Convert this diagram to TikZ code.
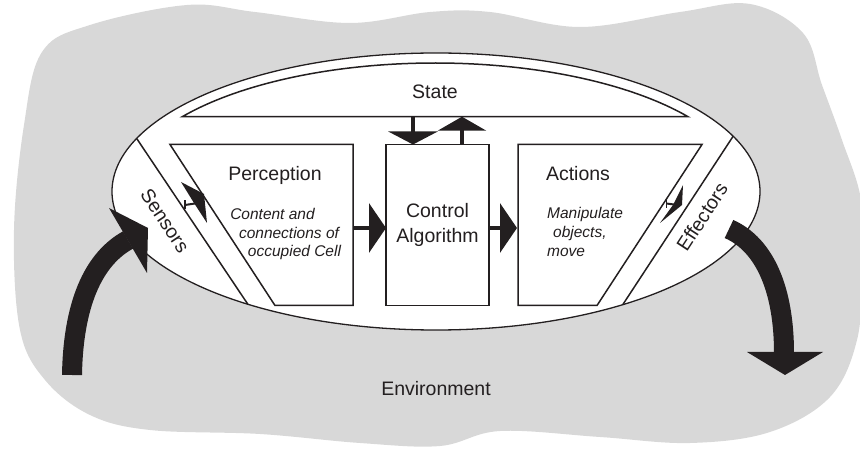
\documentclass[tikz,border=0pt]{standalone}
\usepackage{fontspec}
\setmainfont{Liberation Sans}
\usetikzlibrary{arrows.meta,calc}
\definecolor{envgray}{RGB}{216,216,216}
\definecolor{ink}{RGB}{35,31,32}
\begin{document}
\begin{tikzpicture}[x=1pt,y=1pt,
  lbl/.style={font=\fontsize{19.5}{24.5}\selectfont, text=ink, inner sep=0pt},
  desc/.style={font=\fontsize{15.5}{18}\selectfont\itshape, text=ink, inner sep=0pt},
  outline/.style={draw=ink, line width=1.5pt, fill=white, line join=miter},
  chord/.style={draw=ink, line width=1.5pt},
  flow/.style={draw=ink, line width=4pt, -{Triangle[length=17pt,width=49pt]}},
  stflow/.style={draw=ink, line width=3.5pt, -{Triangle[length=13pt,width=49pt]}},
  thin/.style={draw=ink, line width=2pt},
  big/.style={draw=ink, line width=20pt, line cap=butt},
]
\useasboundingbox (0,0) rectangle (860,-454);

% environment blob
\fill[envgray] plot[smooth cycle, tension=0.6] coordinates {
 (24,-125) (42,-52) (90,-25) (187,-5) (255,-12) (350,-23) (430,-12)
 (490,-12) (580,-27) (680,-12) (750,-4) (803,-33) (822,-85) (842,-140)
 (861,-200) (862,-270) (857,-340) (830,-397) (770,-432) (690,-443)
 (600,-437) (500,-431) (440,-446) (360,-443) (260,-434) (150,-430)
 (90,-415) (45,-380) (20,-330) (14,-230)};

% agent ellipse
\coordinate (C) at (436,-191.5);
\draw[outline, line width=1.3pt] (C) ellipse [x radius=324pt, y radius=138.5pt];

% state
\draw[outline] (688,-116.7) arc[start angle=35.6, end angle=144.4, x radius=311pt, y radius=128.5pt] -- cycle;
\node[lbl] (state) at (435,-91.7) {State};

% sensor / effector bands
\coordinate (s1) at ($(C)+(157.5:324pt and 138.5pt)$);
\coordinate (s2) at ($(C)+(234.5:324pt and 138.5pt)$);
\coordinate (e1) at ($(C)+(23.5:324pt and 138.5pt)$);
\coordinate (e2) at ($(C)+(305.2:324pt and 138.5pt)$);
\draw[chord] (s1) -- (s2);
\draw[chord] (e1) -- (e2);

% boxes
\draw[outline] (170,-144.5) -- (353,-144.5) -- (353,-305.5) -- (275,-305.5) -- cycle;
\node[outline, minimum width=103pt, minimum height=161pt, inner sep=0pt, align=center,
      font=\fontsize{19.5}{24.7}\selectfont, text=ink] (ctrl) at (437.5,-225) {Control\\Algorithm};
\draw[outline] (518,-144.5) -- (702,-144.5) -- (597,-305.5) -- (518,-305.5) -- cycle;

% texts
\node[lbl] (perc) at (275,-175) {Perception};
\node[desc] (pd1) at (272.5,-214) {Content and};
\node[desc] (pd2) at (289,-233) {connections of};
\node[desc] (pd3) at (294.5,-252) {occupied Cell};
\node[lbl] (act) at (578,-174) {Actions};
\node[desc, anchor=west] (ad1) at (547,-214) {Manipulate};
\node[desc, anchor=west] (ad2) at (553,-233) {objects,};
\node[desc, anchor=west] (ad3) at (547,-252) {move};
\node[lbl, rotate=-56.3] (sens) at (165,-221) {Sensors};
\node[lbl, rotate=56.9] (eff) at (702,-217) {Effectors};
\node[lbl] (env) at (436,-389) {Environment};

% flow arrows
\coordinate (pR) at (353,-228);
\coordinate (cL) at (386,-228);
\coordinate (cR) at (489,-228);
\coordinate (aL) at (517,-228);
\draw[flow] (pR) -- (cL);
\draw[flow] (cR) -- (aL);

% state arrows
\coordinate (sd1) at (413,-116.7);
\coordinate (sd2) at (413,-144.5);
\coordinate (su1) at (462,-144.5);
\coordinate (su2) at (462,-116.7);
\draw[stflow] (sd1) -- (sd2);
\draw[stflow, -{Triangle[length=14pt,width=48pt]}] (su1) -- (su2);

% small sensor arrow
\draw[thin] (185,-205) -- (195,-203.5);
\draw[ink, line width=1.3pt] (185,-200.5) -- (185,-209.5);
\fill[ink] (181,-182) -- (204,-194) -- (207,-223) -- (194,-203) -- cycle;

% small effector arrow
\draw[thin] (666.5,-203.5) -- (674,-204.5);
\draw[ink, line width=1.3pt] (666.5,-198.5) -- (666.5,-208.5);
\fill[ink] (683,-185) -- (682,-205) -- (660,-223) -- (673,-205) -- cycle;

% big environment arrows
\coordinate (inS) at (72,-375);
\coordinate (inE) at (128,-240);
\draw[big] (inS) .. controls (73,-315) and (88,-262) .. (inE);
\fill[ink] (109,-208) -- (148,-228) -- (147,-273) -- cycle;

\coordinate (outS) at (729,-229);
\coordinate (outE) at (784,-353);
\draw[big] (outS) .. controls (765,-245) and (784,-290) .. (outE);
\fill[ink] (747,-352) -- (823,-352) -- (785,-375) -- cycle;
\end{tikzpicture}
\end{document}
